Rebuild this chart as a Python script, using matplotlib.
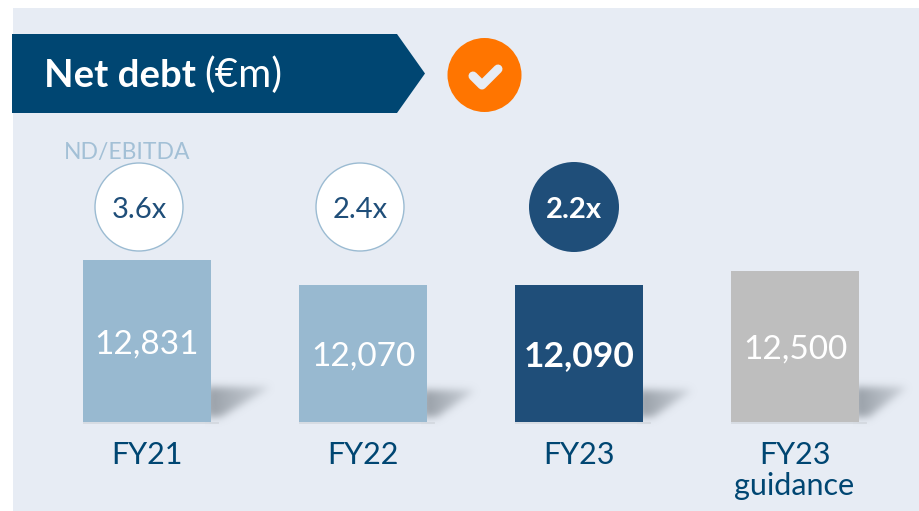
import numpy as np
import matplotlib
matplotlib.use('Agg')
import matplotlib.pyplot as plt
from matplotlib.patches import Circle, Polygon, Rectangle

plt.rcParams['font.family'] = ['Lato', 'DejaVu Sans']

categories = ['FY21', 'FY22', 'FY23', 'FY23\nguidance']
net_debt = [12831, 12070, 12090, 12500]
value_labels = ['12,831', '12,070', '12,090', '12,500']
ratio_labels = ['3.6x', '2.4x', '2.2x']
bar_colors = ['#98B9D0', '#98B9D0', '#1F4E79', '#BEBEBE']

W, H = 919, 511
NAVY = '#004672'
PANEL = '#E7ECF4'

fig = plt.figure(figsize=(W / 100, H / 100), dpi=100, facecolor='white')

# pixel canvas for everything that is not data
bg = fig.add_axes([0, 0, 1, 1], zorder=1)
bg.set_xlim(0, W)
bg.set_ylim(H, 0)
bg.axis('off')
bg.add_patch(Rectangle((13, 8), W - 13, H - 8, fc=PANEL, ec='none'))

# bars axes, base of the bars sits at y=422 px, scale does not start at zero
bar_ax = fig.add_axes([0, (H - 422) / H, 1, 422 / H], zorder=2)
bar_ax.patch.set_alpha(0)
bar_ax.axis('off')
bar_ax.set_xlim(-147 / 216, (W - 147) / 216)
bar_ax.set_ylim(7930, 7930 + 422 / 0.033)
bars = bar_ax.bar(range(4), net_debt, width=128 / 216, bottom=0, color=bar_colors)


def shadow(x0, x1, top, bottom=417):
    # soft slanted shadow to the right of a bar, blurred by hand
    xs = np.arange(x0 - 6, x1 + 14)
    ys = np.arange(top - 12, bottom + 12)
    xx, yy = np.meshgrid(xs + 0.5, ys + 0.5)
    slant = x1 - (x1 - x0 - 10) * (yy - top) / (bottom - top)
    a = ((xx < slant) & (yy > top) & (yy < bottom)).astype(float)
    k = np.exp(-0.5 * (np.arange(-12, 13) / 4.0) ** 2)
    k /= k.sum()
    a = np.apply_along_axis(lambda r: np.convolve(r, k, mode='same'), 0, a)
    a = np.apply_along_axis(lambda r: np.convolve(r, k, mode='same'), 1, a)
    a *= np.clip(1.05 - 0.7 * (xx - x0) / (x1 - x0), 0, 1)
    img = np.zeros(a.shape + (4,))
    img[..., :3] = np.array([0.62, 0.65, 0.68])
    img[..., 3] = a
    bg.imshow(img, extent=(xs[0], xs[-1] + 1, ys[-1] + 1, ys[0]), aspect='auto',
              interpolation='bilinear', zorder=1)


shadow_ends = [271, 476, 693, 908]
shadow_tops = [387, 390, 390, 387]
for b, x_end, y_top in zip(bars, shadow_ends, shadow_tops):
    left = bar_ax.transData.transform((b.get_x(), 0))[0]
    right = bar_ax.transData.transform((b.get_x() + b.get_width(), 0))[0]
    shadow(right, x_end, y_top)
    bg.add_patch(Rectangle((left, 422), right - left + 8, 2, fc='#C9CED4', ec='none', alpha=0.5, zorder=1))
bg.set_xlim(0, W)
bg.set_ylim(H, 0)

# value labels in the middle of the bars
for i, (val, lab) in enumerate(zip(net_debt, value_labels)):
    bar_ax.text(i, (7930 + val) / 2, lab, color='white', fontsize=25.5 if i == 2 else 24, ha='center',
                va='center_baseline', fontweight='bold' if i == 2 else 'normal')

# header arrow
bg.add_patch(Polygon([(12, 34), (397, 34), (425, 73.5), (397, 113), (12, 113)], fc=NAVY, ec='none', zorder=3))
bg.text(44, 87, 'Net debt', color='white', fontsize=27.5, fontweight='bold', va='baseline', zorder=4)
bg.text(204, 87, '(€m)', color='white', fontsize=29, va='baseline', zorder=4)

# check mark
bg.add_patch(Circle((484.5, 75), 37, fc='#FF7500', ec='none', zorder=3))
bg.plot([473, 482, 498], [76, 85, 69], color=PANEL, lw=6.5, solid_capstyle='round',
        solid_joinstyle='round', zorder=4)

# ratio bubbles
bubble_x = [139, 360, 574]
for i, (cx, lab) in enumerate(zip(bubble_x, ratio_labels)):
    if i == 2:
        bg.add_patch(Circle((cx, 207), 45, fc='#1F4E79', ec='none', zorder=3))
        bg.text(cx, 207, lab, color='white', fontsize=21, fontweight='bold', ha='center',
                va='center_baseline', zorder=4)
    else:
        bg.add_patch(Circle((cx, 207), 44, fc='white', ec='#9BBBD2', lw=1, zorder=3))
        bg.text(cx, 207, lab, color='#1F4E79', fontsize=21, ha='center', va='center_baseline', zorder=4)

bg.text(127, 150, 'ND/EBITDA', color='#A3C0D6', fontsize=16.5, ha='center', va='center_baseline', zorder=4)

# category labels
label_x = [147, 362.5, 578.5, 794.5]
for x, cat in zip(label_x, categories):
    lines = cat.split('\n')
    bg.text(x, 453, lines[0], color=NAVY, fontsize=22, ha='center', va='center_baseline', zorder=4)
    if len(lines) > 1:
        bg.text(x, 483, lines[1], color=NAVY, fontsize=22, ha='center', va='center_baseline', zorder=4)

fig.savefig('out.png', dpi=100)
